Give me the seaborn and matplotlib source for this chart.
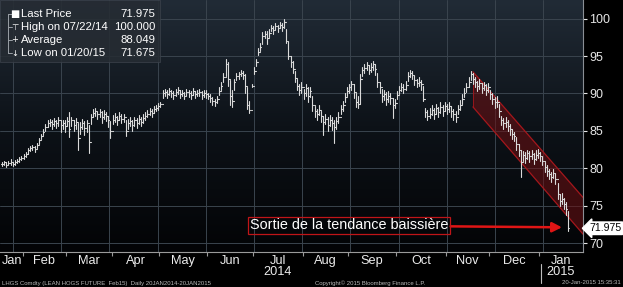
import numpy as np
import pandas as pd
import matplotlib
matplotlib.use("Agg")
import matplotlib.pyplot as plt
import seaborn as sns
from matplotlib import transforms
from matplotlib.colors import LinearSegmentedColormap
from matplotlib.patches import Rectangle

# ---------------- data ----------------
start_date = "2014-01-20"
end_date = "2015-01-20"
month_names = ["Jan", "Feb", "Mar", "Apr", "May", "Jun", "Jul", "Aug",
               "Sep", "Oct", "Nov", "Dec", "Jan"]

close = [
    80.6, 80.8, 80.5, 80.7, 80.9, 80.6, 80.8, 81.0, 81.2, 81.4,                       # Jan 14
    81.6, 81.9, 82.4, 82.7, 82.8, 82.6, 83.1, 83.8, 84.3, 84.9, 85.5, 86.0, 86.2,
    85.9, 86.3, 86.0, 86.4, 85.8, 86.1, 85.7,                                         # Feb
    86.3, 85.2, 86.4, 85.8, 86.2, 84.0, 85.5, 86.1, 85.4, 86.0, 83.5, 86.8, 87.4,
    87.6, 87.2, 87.5, 86.9, 87.3, 87.0, 86.4, 85.0,                                   # Mar
    86.5, 86.9, 86.4, 87.0, 86.6, 86.8, 85.0, 86.0, 86.3, 85.8, 86.4, 86.1, 86.6,
    86.2, 86.7, 87.0, 87.3, 87.6, 87.4, 87.9, 88.1, 88.3,                             # Apr
    88.6, 90.0, 90.2, 89.9, 90.3, 90.0, 89.8, 90.2, 90.4, 89.9, 90.1, 89.7, 90.2,
    90.0, 89.8, 90.3, 89.9, 90.1, 90.2, 89.8, 90.0, 89.9,                             # May
    89.7, 89.4, 89.0, 88.8, 89.2, 90.3, 91.0, 92.2, 94.0, 92.0, 89.6, 89.0, 91.5,
    92.3, 92.6, 92.8, 92.5, 91.0, 88.5, 87.8, 91.0,                                   # Jun
    93.0, 94.2, 95.6, 96.2, 97.7, 97.9, 97.4, 98.1, 98.8, 98.5, 99.0, 98.7, 99.2,
    98.9, 99.5, 97.0, 95.0, 94.2, 93.3, 92.1, 91.0, 90.4, 90.8,                       # Jul
    90.0, 90.7, 89.6, 90.3, 88.4, 87.6, 87.2, 87.8, 87.0, 86.2, 86.6, 85.8, 86.4,
    86.0, 85.5, 86.3, 86.8, 87.9, 88.4, 89.5, 90.3,                                   # Aug
    90.8, 91.2, 90.2, 88.8, 88.6, 92.0, 93.1, 93.4, 93.8, 93.2, 93.6, 93.9, 93.3,
    91.5, 90.8, 89.6, 89.9, 89.2, 89.7, 89.4, 88.5, 88.7,                             # Sep
    89.8, 90.5, 90.9, 90.6, 91.1, 92.4, 92.8, 92.5, 91.8, 91.4, 91.6, 91.2, 89.2,
    87.5, 87.0, 87.3, 87.8, 87.2, 88.0, 87.5, 88.2, 87.7, 88.3,                       # Oct
    87.9, 88.3, 87.6, 87.2, 86.8, 87.9, 88.5, 89.3, 90.1, 90.8, 91.6, 92.6, 92.0,
    91.5, 91.0, 91.4, 90.7, 91.1, 90.5, 90.9,                                         # Nov
    89.9, 89.3, 88.8, 88.9, 87.6, 86.4, 86.0, 86.2, 85.7, 85.2, 84.6, 84.3, 83.2,
    82.4, 80.8, 81.8, 81.4, 82.0, 81.6, 81.9, 81.3, 81.8, 82.1,                       # Dec
    81.6, 81.0, 80.2, 79.6, 79.2, 78.8, 79.4, 78.5, 76.6, 75.6, 75.9, 75.2, 74.6,
    71.975,                                                                           # Jan 15
]
high = [
    80.9, 81.0, 80.9, 81.0, 81.2, 80.9, 81.1, 81.3, 81.5, 81.7,
    81.9, 82.2, 82.7, 83.0, 83.1, 83.0, 83.4, 84.1, 84.6, 85.3, 85.9, 86.4, 86.6,
    86.4, 86.7, 86.5, 86.8, 86.4, 86.5, 86.4,
    86.8, 87.5, 86.9, 86.5, 86.7, 86.0, 86.2, 86.6, 86.3, 86.5, 85.8, 87.3, 87.9,
    88.0, 87.7, 87.9, 87.6, 87.8, 87.5, 87.0, 86.3,
    87.1, 87.4, 87.0, 87.5, 87.2, 87.3, 86.5, 86.6, 86.9, 86.4, 86.9, 86.7, 87.1,
    86.8, 87.2, 87.5, 87.8, 88.0, 87.9, 88.3, 88.5, 88.7,
    88.9, 90.4, 90.6, 90.4, 90.7, 90.5, 90.3, 90.6, 90.8, 90.4, 90.5, 90.2, 90.6,
    90.4, 90.3, 90.7, 90.3, 90.5, 90.6, 90.3, 90.4, 90.4,
    90.1, 89.9, 89.5, 89.3, 89.7, 90.8, 91.5, 92.8, 94.6, 94.2, 91.8, 90.5, 92.0,
    92.7, 92.9, 93.2, 93.0, 92.6, 90.8, 89.0, 91.2,
    93.5, 94.6, 96.1, 96.7, 98.2, 98.4, 98.3, 98.6, 99.2, 99.0, 99.4, 99.2, 99.6,
    99.4, 100.0, 98.6, 97.0, 95.0, 94.4, 93.0, 92.0, 91.3, 91.5,
    90.6, 91.2, 90.8, 90.9, 89.6, 88.3, 87.9, 88.4, 87.7, 87.0, 87.2, 86.8, 87.1,
    86.9, 86.5, 86.9, 87.5, 88.4, 89.0, 90.1, 90.9,
    91.3, 91.7, 91.2, 90.0, 89.6, 92.6, 93.6, 93.9, 94.2, 93.8, 94.1, 94.3, 93.9,
    92.8, 91.6, 90.6, 90.5, 90.2, 90.3, 90.1, 89.4, 89.2,
    90.3, 91.0, 91.4, 91.2, 91.7, 92.9, 93.2, 93.0, 92.5, 92.0, 92.2, 91.8, 91.0,
    88.0, 87.8, 88.0, 88.5, 88.0, 88.6, 88.2, 88.8, 88.4, 88.9,
    88.6, 88.9, 88.3, 87.9, 87.6, 88.5, 89.1, 89.9, 90.7, 91.4, 92.2, 93.0, 92.7,
    92.2, 91.7, 91.9, 91.4, 91.6, 91.2, 91.4,
    90.4, 90.0, 89.5, 89.6, 88.6, 87.0, 86.7, 86.8, 86.4, 85.9, 85.3, 84.9, 84.2,
    83.2, 82.5, 82.3, 82.2, 82.5, 82.3, 82.4, 82.1, 82.4, 82.6,
    82.2, 81.7, 80.9, 80.4, 79.9, 79.5, 79.9, 79.3, 78.0, 76.5, 76.7, 76.0, 75.5,
    74.3,
]
low = [
    80.3, 80.4, 80.2, 80.4, 80.5, 80.3, 80.5, 80.7, 80.9, 81.1,
    81.2, 81.5, 81.9, 82.3, 82.4, 82.2, 82.7, 83.3, 83.9, 84.4, 85.0, 85.5, 85.6,
    85.2, 85.7, 85.4, 85.6, 84.8, 85.3, 84.9,
    85.7, 84.2, 85.6, 85.0, 85.3, 82.4, 84.6, 85.3, 84.5, 84.9, 82.0, 85.9, 86.8,
    87.0, 86.6, 86.9, 86.1, 86.6, 86.3, 85.5, 84.0,
    85.9, 86.2, 85.8, 86.4, 86.0, 86.2, 84.3, 85.2, 85.6, 85.0, 85.7, 85.4, 85.9,
    85.6, 86.1, 86.4, 86.8, 87.1, 86.9, 87.4, 87.6, 87.8,
    88.2, 89.4, 89.7, 89.4, 89.8, 89.5, 89.3, 89.7, 89.9, 89.4, 89.6, 89.2, 89.7,
    89.5, 89.3, 89.8, 89.4, 89.6, 89.7, 89.3, 89.5, 89.4,
    89.2, 88.9, 88.5, 88.3, 88.7, 89.8, 90.5, 91.5, 92.3, 91.0, 88.5, 88.2, 90.4,
    91.8, 92.0, 92.3, 91.9, 90.0, 87.9, 87.4, 90.8,
    92.6, 93.7, 95.2, 95.7, 96.6, 97.4, 96.6, 97.6, 98.3, 98.0, 98.5, 98.2, 98.7,
    98.4, 98.8, 96.8, 94.6, 93.6, 92.8, 91.5, 90.4, 89.8, 90.0,
    89.3, 89.7, 88.8, 89.5, 87.7, 86.9, 86.5, 87.1, 86.2, 84.5, 85.9, 85.0, 85.6,
    85.1, 83.4, 85.3, 86.0, 87.2, 87.6, 88.8, 89.6,
    90.1, 90.5, 89.4, 88.2, 88.0, 88.6, 92.4, 92.8, 93.1, 92.6, 92.9, 93.2, 92.5,
    90.8, 90.0, 88.8, 89.1, 88.4, 88.9, 88.6, 86.7, 88.0,
    89.2, 89.9, 90.3, 90.0, 90.5, 91.7, 92.2, 91.9, 91.1, 90.8, 91.0, 90.5, 89.0,
    86.9, 86.5, 86.7, 87.1, 86.6, 87.3, 86.8, 87.4, 87.0, 87.6,
    87.2, 87.5, 86.9, 86.5, 86.2, 87.2, 87.8, 88.6, 89.5, 90.2, 90.9, 91.8, 91.3,
    90.8, 90.3, 90.6, 90.0, 90.4, 89.8, 90.2,
    89.2, 88.6, 88.0, 88.2, 86.9, 85.8, 85.3, 85.5, 85.0, 84.5, 83.9, 83.6, 82.5,
    81.7, 78.8, 81.0, 80.7, 81.2, 80.9, 81.2, 80.6, 81.1, 81.4,
    81.0, 80.4, 79.5, 78.9, 78.5, 78.1, 78.7, 77.9, 75.9, 74.9, 75.2, 74.5, 73.8,
    71.675,
]

legend_labels = ["Last Price", "High on 07/22/14", "Average", "Low on 01/20/15"]
legend_values = ["71.975", "100.000", "88.049", "71.675"]
last_price = 71.975
y_ticks = [70, 75, 80, 85, 90, 95, 100]

# down-trend channel (bar index, price)
channel_x = [217.0, 268.0]
channel_top = [92.9, 76.0]
channel_bottom = [88.2, 71.1]

annot_text = "Sortie de la tendance baissière"
annot_text_xy = (160.0, 72.35)
annot_arrow_xy = (258.0, 72.1)

footer_left = "LHGS Comdty (LEAN HOGS FUTURE  Feb15)  Daily 20JAN2014-20JAN2015"
footer_mid = "Copyright\u00a9 2015 Bloomberg Finance L.P."
footer_right = "20-Jan-2015 15:35:31"

# ---------------- build frames ----------------
dates = pd.bdate_range(start_date, end_date)[:len(close)]
n = len(close)
opens = [close[0]] + close[:-1]

rows = []
seg = 0
for i in range(n):
    rows += [(seg, i, low[i]), (seg, i, high[i])]
    seg += 1
    rows += [(seg, i - 0.38, opens[i]), (seg, i, opens[i])]
    seg += 1
    rows += [(seg, i, close[i]), (seg, i + 0.38, close[i])]
    seg += 1
bars = pd.DataFrame(rows, columns=["seg", "x", "price"])

# ---------------- figure ----------------
sns.set_theme(style="dark")
plt.rcParams["font.family"] = ["Liberation Sans", "DejaVu Sans"]

W, H = 623, 287
fig = plt.figure(figsize=(W / 100, H / 100), dpi=100, facecolor="black")
ax = fig.add_axes([0, 1 - 252 / H, 583 / W, 252 / H])
ax.set_facecolor("black")

grad = np.linspace(1, 0, 256).reshape(-1, 1)
cmap = LinearSegmentedColormap.from_list("bg", ["#030406", "#0d1218", "#212b36"])
ax.imshow(grad, cmap=cmap, extent=[0, 1, 0, 1], transform=ax.transAxes,
          aspect="auto", zorder=0, interpolation="bicubic")

xmin, xmax = -0.9, 267.7
ymin, ymax = 68.8, 102.5

# grid
for yv in y_ticks:
    ax.axhline(yv, color="#3a444e", lw=0.7, zorder=1)
for xv in np.arange(5.1, n, 22.2):
    ax.axvline(xv, color="#3a444e", lw=0.7, zorder=1)

# channel
ax.fill([channel_x[0], channel_x[1], channel_x[1], channel_x[0]],
        [channel_top[0], channel_top[1], channel_bottom[1], channel_bottom[0]],
        facecolor="#6e0f12", alpha=0.55, edgecolor="none", zorder=2)
ax.plot(channel_x, channel_top, color="#a5171c", lw=0.9, zorder=2)
ax.plot(channel_x, channel_bottom, color="#a5171c", lw=0.9, zorder=2)
ax.plot([channel_x[0]] * 2, [channel_bottom[0], channel_top[0]], color="#a5171c", lw=0.6, zorder=2)

# OHLC bars
sns.lineplot(data=bars, x="x", y="price", units="seg", estimator=None, sort=False,
             color="#dadada", lw=0.8, ax=ax, legend=False, zorder=3)

ax.set_xlim(xmin, xmax)
ax.set_ylim(ymin, ymax)
ax.set_xlabel("")
ax.set_ylabel("")

# spines
for s in ["top", "left"]:
    ax.spines[s].set_visible(False)
ax.spines["right"].set_color("#8a8f95")
ax.spines["right"].set_linewidth(0.8)
ax.spines["bottom"].set_color("#9a9a9a")
ax.spines["bottom"].set_linestyle((0, (1, 1)))
ax.spines["bottom"].set_linewidth(0.8)

# y axis on the right
ax.yaxis.tick_right()
ax.set_yticks(y_ticks)
ax.set_yticklabels([str(v) for v in y_ticks])
ax.tick_params(axis="y", which="major", length=3, width=0.8, colors="#e6e6e6",
               labelsize=9, pad=1.5, right=True, left=False)

# x axis: ticks at month boundaries, labels at month centers
month_id = dates.year * 12 + dates.month
starts = [0] + [i for i in range(1, n) if month_id[i] != month_id[i - 1]]
ends = starts[1:] + [xmax + 0.5]
centers = [(s - 0.5 + min(e - 0.5, xmax)) / 2 for s, e in zip(starts, ends)]
ax.set_xticks([s - 0.5 for s in starts[1:]])
ax.set_xticklabels([])
ax.set_xticks(centers, minor=True)
ax.set_xticklabels(month_names[:len(centers)], minor=True)
ax.tick_params(axis="x", which="major", length=3, width=0.8, color="#9a9a9a",
               bottom=True, direction="out")
ax.tick_params(axis="x", which="minor", length=0, labelsize=9.2, labelcolor="#ececec",
               pad=2, bottom=True)
ax.grid(False)

blend = transforms.blended_transform_factory(ax.transData, ax.transAxes)
ax.text(centers[6], -20 / 252, "2014", transform=blend, ha="center", va="center",
        color="#ececec", fontsize=9.2)
ax.text(centers[12], -20 / 252, "2015", transform=blend, ha="center", va="center",
        color="#ececec", fontsize=9.2)
ax.plot([starts[12] + 0.5] * 2, [-12 / 252, -31 / 252], transform=blend,
        color="#bdbdbd", lw=0.8, clip_on=False)

# last price tag
ax.text(1 + 6 / 583, last_price, legend_values[0],
        transform=transforms.blended_transform_factory(ax.transAxes, ax.transData),
        ha="left", va="center", color="black", fontsize=7.6, zorder=6, clip_on=False,
        bbox=dict(boxstyle="larrow,pad=0.12", fc="white", ec="white"))

# annotation
ax.annotate(annot_text, xy=annot_arrow_xy, xytext=annot_text_xy,
            ha="center", va="center", color="white", fontsize=10.4, zorder=7,
            bbox=dict(boxstyle="square,pad=0.12", fc="none", ec="#c01518", lw=0.9),
            arrowprops=dict(arrowstyle="-|>,head_length=0.55,head_width=0.28",
                            color="#e01515", lw=1.8, shrinkA=0, shrinkB=0))

# legend box
ax.add_patch(Rectangle((0, 1 - 62 / 252), 160 / 583, 62 / 252, transform=ax.transAxes,
                       facecolor="#262c33", edgecolor="#3c434c", lw=0.6, alpha=0.85,
                       zorder=8))
row_y = [14, 27, 40, 53]
ax.plot([8 / 583, 8 / 583], [1 - 14 / 252, 1 - 53 / 252], transform=ax.transAxes,
        color="#9aa0a6", lw=0.7, zorder=9)
icons = ["\u25a0", "\u22a4", "+", "\u2193"]
for k, (lab, val, ry) in enumerate(zip(legend_labels, legend_values, row_y)):
    yy = 1 - ry / 252
    ax.plot([8 / 583, 12 / 583], [yy, yy], transform=ax.transAxes, color="#9aa0a6",
            lw=0.7, zorder=9)
    ax.text(15 / 583, yy, icons[k], transform=ax.transAxes, ha="center", va="center",
            color="white", fontsize=6 if k else 7, zorder=10,
            family=["DejaVu Sans"])
    ax.text(21 / 583, yy, lab, transform=ax.transAxes, ha="left", va="center",
            color="white", fontsize=8.2, zorder=10)
    ax.text(155 / 583, yy, val, transform=ax.transAxes, ha="right", va="center",
            color="white", fontsize=8.2, zorder=10)

# footer
fy = 1 - 283 / H
fig.text(2 / W, fy, footer_left, ha="left", va="center", color="#b8b8b8", fontsize=4.3)
fig.text(370 / W, fy, footer_mid, ha="center", va="center", color="#b8b8b8", fontsize=4.3)
fig.text(621 / W, fy, footer_right, ha="right", va="center", color="#b8b8b8", fontsize=4.3)

fig.savefig("out.png", dpi=100, facecolor="black")
